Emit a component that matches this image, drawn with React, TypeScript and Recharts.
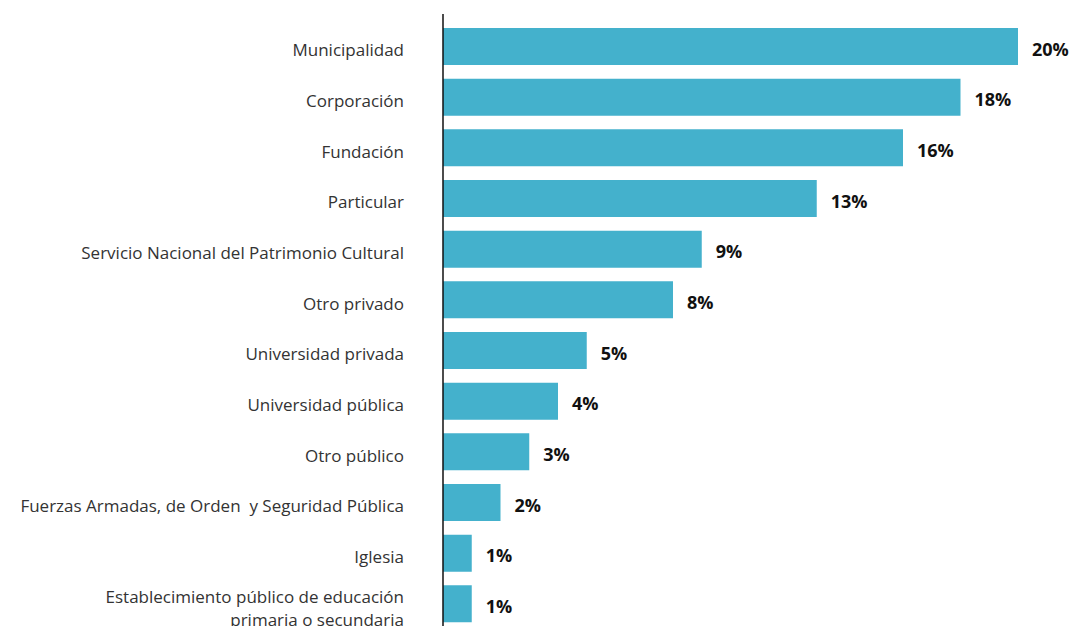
import React from 'react';
import { BarChart, Bar, XAxis, YAxis, LabelList } from 'recharts';

const categories = [
  'Municipalidad',
  'Corporación',
  'Fundación',
  'Particular',
  'Servicio Nacional del Patrimonio Cultural',
  'Otro privado',
  'Universidad privada',
  'Universidad pública',
  'Otro público',
  'Fuerzas Armadas, de Orden  y Seguridad Pública',
  'Iglesia',
  'Establecimiento público de educación\nprimaria o secundaria',
];

const shares = [20, 18, 16, 13, 9, 8, 5, 4, 3, 2, 1, 1];

const data = categories.map((name, i) => ({ name, value: shares[i] }));

const CategoryTick = (props: any) => {
  const { x, y, payload } = props;
  const lines = String(payload.value).split('\n');
  const startDy = lines.length > 1 ? -1 : 10;
  return (
    <text
      x={x - 39}
      y={y}
      textAnchor="end"
      fill="#333"
      fontSize={17}
      fontFamily="'Open Sans', sans-serif"
      style={{ whiteSpace: 'pre' }}
    >
      {lines.map((line, i) => (
        <tspan key={i} x={x - 39} dy={i === 0 ? startDy : 23}>
          {line}
        </tspan>
      ))}
    </text>
  );
};

const ValueLabel = (props: any) => {
  const { x, y, width, height, value } = props;
  return (
    <text
      x={x + width + 14}
      y={y + height / 2 + 9}
      fill="#111"
      fontSize={18}
      fontWeight={700}
      fontFamily="'Open Sans', sans-serif"
    >
      {`${value}%`}
    </text>
  );
};

const App: React.FC = () => {
  return (
    <div style={{ position: 'absolute', left: 0, top: 0, width: 1071, height: 626, overflow: 'hidden', background: '#fff' }}>
      <BarChart
        width={1071}
        height={640}
        data={data}
        layout="vertical"
        margin={{ top: 14, right: 53, bottom: 11, left: 0 }}
      >
        <XAxis type="number" domain={[0, 20]} hide />
        <YAxis
          type="category"
          dataKey="name"
          width={443}
          padding={{ top: 7, bottom: 0 }}
          axisLine={{ stroke: '#111', strokeWidth: 1.5 }}
          tickLine={false}
          tickSize={0}
          tickMargin={0}
          interval={0}
          tick={<CategoryTick />}
        />
        <Bar dataKey="value" fill="#44B1CC" barSize={37} isAnimationActive={false}>
          <LabelList dataKey="value" content={<ValueLabel />} />
        </Bar>
      </BarChart>
    </div>
  );
};

export default App;
